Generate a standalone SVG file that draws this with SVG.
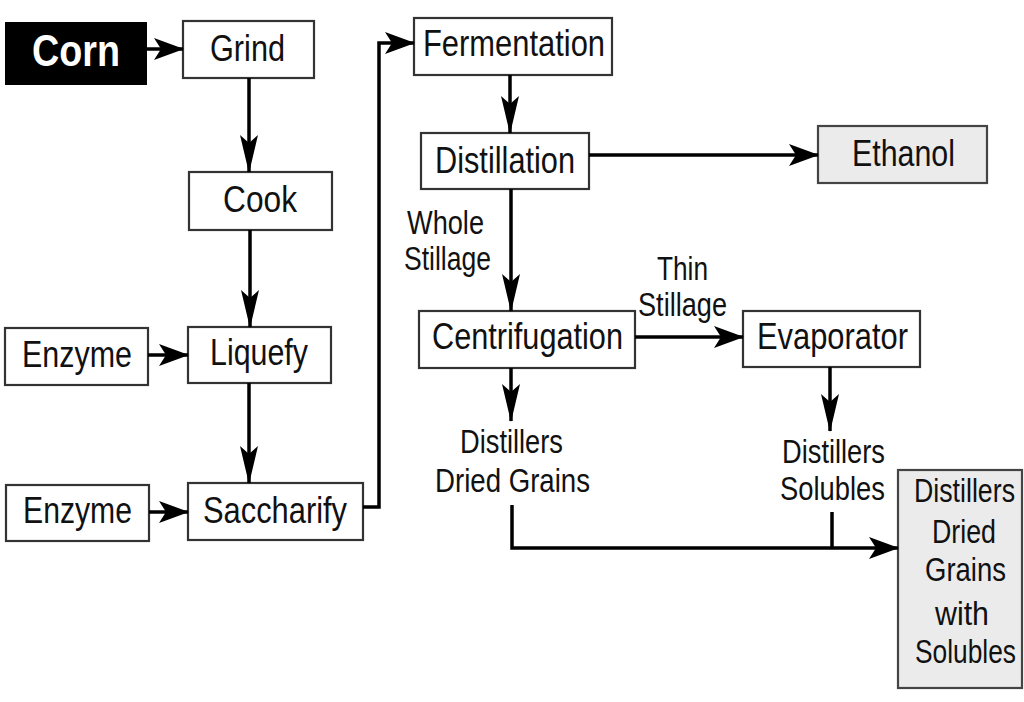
<svg xmlns="http://www.w3.org/2000/svg" width="1024" height="702" viewBox="0 0 1024 702">
<style>
.box{fill:#fff;stroke:#333;stroke-width:2.2}
.grey{fill:#ebebeb;stroke:#444;stroke-width:2.2}
.t{font-family:"Liberation Sans",Arial,sans-serif;font-size:37px;fill:#111}
.l{font-family:"Liberation Sans",Arial,sans-serif;font-size:34px;fill:#111}
.c{fill:none;stroke:#000;stroke-width:3.5}
</style>
<defs>
<marker id="ah" markerUnits="userSpaceOnUse" markerWidth="30" markerHeight="22" viewBox="0 0 30 22" refX="29" refY="11" orient="auto">
<path d="M0,0 L30,11 L0,22 L7,11 z" fill="#000"/>
</marker>
<marker id="av" markerUnits="userSpaceOnUse" markerWidth="38" markerHeight="18" viewBox="0 0 38 18" refX="37" refY="9" orient="auto">
<path d="M0,0 L38,9 L0,18 L8,9 z" fill="#000"/>
</marker>
</defs>
<rect width="1024" height="702" fill="#fff"/>
<g id="corn"><rect x="5" y="22" width="142" height="63" fill="#000"/><text x="32" y="66" font-family="Liberation Sans,Arial,sans-serif" font-weight="bold" font-size="44" fill="#fff" textLength="88" lengthAdjust="spacingAndGlyphs">Corn</text></g>
<g id="grind"><rect class="box" x="183" y="21" width="131" height="57"/><text class="t" x="210" y="61" textLength="75" lengthAdjust="spacingAndGlyphs">Grind</text></g>
<g id="cook"><rect class="box" x="189" y="172" width="143" height="58"/><text class="t" x="223" y="212" textLength="74" lengthAdjust="spacingAndGlyphs">Cook</text></g>
<g id="enzyme1"><rect class="box" x="5" y="328" width="143" height="57"/><text class="t" x="22" y="367" textLength="110" lengthAdjust="spacingAndGlyphs">Enzyme</text></g>
<g id="liquefy"><rect class="box" x="188" y="327" width="143" height="56"/><text class="t" x="210" y="365" textLength="98" lengthAdjust="spacingAndGlyphs">Liquefy</text></g>
<g id="enzyme2"><rect class="box" x="6" y="485" width="143" height="56"/><text class="t" x="23" y="523" textLength="109" lengthAdjust="spacingAndGlyphs">Enzyme</text></g>
<g id="saccharify"><rect class="box" x="188" y="483" width="175" height="57"/><text class="t" x="203" y="523" textLength="144" lengthAdjust="spacingAndGlyphs">Saccharify</text></g>
<g id="fermentation"><rect class="box" x="414" y="18" width="198" height="57"/><text class="t" x="423" y="56" textLength="182" lengthAdjust="spacingAndGlyphs">Fermentation</text></g>
<g id="distillation"><rect class="box" x="421" y="133" width="168" height="56"/><text class="t" x="435" y="173" textLength="140" lengthAdjust="spacingAndGlyphs">Distillation</text></g>
<g id="ethanol"><rect class="grey" x="818" y="126" width="169" height="57"/><text class="t" x="852" y="166" textLength="103" lengthAdjust="spacingAndGlyphs">Ethanol</text></g>
<g id="centrifugation"><rect class="box" x="419" y="311" width="216" height="57"/><text class="t" x="432" y="349" textLength="191" lengthAdjust="spacingAndGlyphs">Centrifugation</text></g>
<g id="evaporator"><rect class="box" x="743" y="311" width="177" height="56"/><text class="t" x="757" y="349" textLength="151" lengthAdjust="spacingAndGlyphs">Evaporator</text></g>
<g id="ddgs"><rect class="grey" x="898" y="470" width="124" height="218"/>
<text class="l" x="914" y="502" textLength="101" lengthAdjust="spacingAndGlyphs">Distillers</text>
<text class="l" x="932" y="543" textLength="64" lengthAdjust="spacingAndGlyphs">Dried</text>
<text class="l" x="925" y="581" textLength="81" lengthAdjust="spacingAndGlyphs">Grains</text>
<text class="l" x="935" y="625" textLength="54" lengthAdjust="spacingAndGlyphs">with</text>
<text class="l" x="915" y="663" textLength="101" lengthAdjust="spacingAndGlyphs">Solubles</text></g>
<g id="connectors">
<path class="c" d="M147,49 H183" marker-end="url(#ah)"/>
<path class="c" d="M249,78 V172" marker-end="url(#av)"/>
<path class="c" d="M250,230 V327" marker-end="url(#av)"/>
<path class="c" d="M148,355 H188" marker-end="url(#ah)"/>
<path class="c" d="M249,383 V483" marker-end="url(#av)"/>
<path class="c" d="M149,512 H188" marker-end="url(#ah)"/>
<path class="c" d="M363,507 H379 V43 H414" marker-end="url(#ah)"/>
<path class="c" d="M510,75 V133" marker-end="url(#av)"/>
<path class="c" d="M589,155 H818" marker-end="url(#ah)"/>
<path class="c" d="M511,189 V311" marker-end="url(#av)"/>
<path class="c" d="M635,337 H743" marker-end="url(#ah)"/>
<path class="c" d="M511,368 V421" marker-end="url(#av)"/>
<path class="c" d="M830,367 V431" marker-end="url(#av)"/>
<path class="c" d="M512,505 V548 H898" marker-end="url(#ah)"/>
<path class="c" d="M832,512 V548"/>
</g>
<g id="labels">
<text class="l" x="407" y="234" textLength="77" lengthAdjust="spacingAndGlyphs">Whole</text>
<text class="l" x="404" y="270" textLength="87" lengthAdjust="spacingAndGlyphs">Stillage</text>
<text class="l" x="657" y="280" textLength="51" lengthAdjust="spacingAndGlyphs">Thin</text>
<text class="l" x="638" y="316" textLength="89" lengthAdjust="spacingAndGlyphs">Stillage</text>
<text class="l" x="460" y="453" textLength="103" lengthAdjust="spacingAndGlyphs">Distillers</text>
<text class="l" x="435" y="492" textLength="155" lengthAdjust="spacingAndGlyphs">Dried Grains</text>
<text class="l" x="782" y="463" textLength="103" lengthAdjust="spacingAndGlyphs">Distillers</text>
<text class="l" x="780" y="500" textLength="105" lengthAdjust="spacingAndGlyphs">Solubles</text>
</g>
</svg>
